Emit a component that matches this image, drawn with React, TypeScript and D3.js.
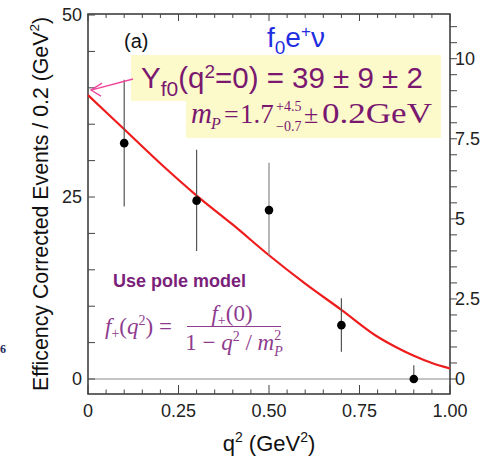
import React, { useEffect, useRef } from 'react';
import * as d3 from 'd3';

// measured points
const q2 = [0.1, 0.3, 0.5, 0.7, 0.9];
const events = [32.4, 24.5, 23.2, 7.4, 0];
const errHigh = [41.1, 31.5, 29.7, 11.1, 1.9];
const errLow = [23.7, 17.6, 17.0, 3.75, 0];

// pole model fit curve
const fitQ2 = [0, 0.1, 0.2, 0.3, 0.4, 0.5, 0.6, 0.7, 0.8, 0.85, 0.9, 0.95, 1.0];
const fitEvents = [39, 34.3, 29.6, 25.2, 21.2, 17.0, 13.1, 9.5, 5.8, 4.4, 3.2, 2.2, 1.45];

const xTicks = [0, 0.25, 0.5, 0.75, 1.0];
const xTickLabels = ['0', '0.25', '0.50', '0.75', '1.00'];
const yTicks = [0, 25, 50];
const yRightTicks = [0, 2.5, 5, 7.5, 10];
const yRightLabels = ['0', '2.5', '5', '7.5', '10'];

const PURPLE = '#7a1870';
const SANS = 'Arial, "Liberation Sans", sans-serif';
const SERIF = '"Times New Roman", "Liberation Serif", serif';

export default function App() {
    const svgRef = useRef<SVGSVGElement>(null);

    useEffect(() => {
        const svg = d3.select(svgRef.current);
        svg.selectAll('*').remove();

        const left = 88, right = 450, top = 14, bottom = 394;

        const x = d3.scaleLinear().domain([0, 1]).range([left, right]);
        const y = d3.scaleLinear().domain([-2.06, 50.14]).range([bottom, top]);
        // right axis is the same events scaled down by the efficiency factor
        const yR = d3.scaleLinear().domain([-2.06 / 4.4, 50.14 / 4.4]).range([bottom, top]);

        // yellow boxes behind the result text
        svg.append('rect').attr('x', 131).attr('y', 55).attr('width', 310).attr('height', 46).attr('fill', '#fcfacb');
        svg.append('rect').attr('x', 186).attr('y', 100).attr('width', 255).attr('height', 38).attr('fill', '#fcfacb');

        // zero line
        svg.append('line')
            .attr('x1', left).attr('x2', right)
            .attr('y1', y(0)).attr('y2', y(0))
            .attr('stroke', '#8a8a8a').attr('stroke-width', 1.2);

        // frame
        svg.append('rect')
            .attr('x', left).attr('y', top)
            .attr('width', right - left).attr('height', bottom - top)
            .attr('fill', 'none').attr('stroke', '#333').attr('stroke-width', 1.5);

        // x ticks, bottom and top, pointing inward
        const xMinor = d3.range(0, 1.0001, 0.05);
        xMinor.forEach((v, i) => {
            const major = i % 5 === 0;
            const len = major ? 9 : 4.5;
            svg.append('line').attr('x1', x(v)).attr('x2', x(v)).attr('y1', bottom).attr('y2', bottom - len)
                .attr('stroke', '#444').attr('stroke-width', 1);
            svg.append('line').attr('x1', x(v)).attr('x2', x(v)).attr('y1', top).attr('y2', top + (major ? 7 : 4))
                .attr('stroke', '#444').attr('stroke-width', 1);
        });

        // left ticks, every 5
        d3.range(0, 50.001, 5).forEach(v => {
            svg.append('line').attr('x1', left).attr('x2', left + 7).attr('y1', y(v)).attr('y2', y(v))
                .attr('stroke', '#444').attr('stroke-width', 1);
        });

        // right ticks outward, every 0.5
        d3.range(0, 11.001, 0.5).forEach(v => {
            svg.append('line').attr('x1', right).attr('x2', right + 7).attr('y1', yR(v)).attr('y2', yR(v))
                .attr('stroke', '#444').attr('stroke-width', 1);
        });

        // tick labels
        xTicks.forEach((v, i) => {
            svg.append('text').attr('x', x(v)).attr('y', 417)
                .attr('text-anchor', 'middle').attr('font-family', SANS).attr('font-size', 18).attr('fill', '#222')
                .text(xTickLabels[i]);
        });
        yTicks.forEach(v => {
            svg.append('text').attr('x', 82).attr('y', y(v)).attr('dy', '0.36em')
                .attr('text-anchor', 'end').attr('font-family', SANS).attr('font-size', 18).attr('fill', '#222')
                .text(String(v));
        });
        yRightTicks.forEach((v, i) => {
            svg.append('text').attr('x', 455).attr('y', yR(v)).attr('dy', '0.36em')
                .attr('font-family', SANS).attr('font-size', 18).attr('fill', '#222')
                .text(yRightLabels[i]);
        });

        // axis titles
        const xt = svg.append('text').attr('x', 269).attr('y', 451).attr('text-anchor', 'middle')
            .attr('font-family', SANS).attr('font-size', 22).attr('fill', '#111');
        xt.append('tspan').text('q');
        xt.append('tspan').attr('dy', -9).attr('font-size', 14).text('2');
        xt.append('tspan').attr('dy', 9).text(' (GeV');
        xt.append('tspan').attr('dy', -9).attr('font-size', 14).text('2');
        xt.append('tspan').attr('dy', 9).text(')');

        const yt = svg.append('text').attr('transform', 'translate(48,204) rotate(-90)').attr('text-anchor', 'middle')
            .attr('font-family', SANS).attr('font-size', 21.3).attr('fill', '#111');
        yt.append('tspan').text('Efficency Corrected Events / 0.2 (GeV');
        yt.append('tspan').attr('dy', -9).attr('font-size', 13.5).text('2');
        yt.append('tspan').attr('dy', 9).text(')');

        // stray label at the left edge
        svg.append('text').attr('x', 0).attr('y', 353).attr('font-family', SERIF).attr('font-weight', 'bold')
            .attr('font-size', 12).attr('fill', '#1b2a5a').text('6');

        // fit curve
        const line = d3.line<number>()
            .x((d, i) => x(fitQ2[i]))
            .y(d => y(d))
            .curve(d3.curveMonotoneX);
        svg.append('path').datum(fitEvents).attr('d', line)
            .attr('fill', 'none').attr('stroke', '#ee1c1c').attr('stroke-width', 2.2);

        // error bars and points
        const pts = svg.append('g');
        q2.forEach((q, i) => {
            pts.append('line').attr('x1', x(q)).attr('x2', x(q)).attr('y1', y(errHigh[i])).attr('y2', y(errLow[i]))
                .attr('stroke', i === 2 ? '#888' : '#555').attr('stroke-width', 1.2);
            pts.append('circle').attr('cx', x(q)).attr('cy', y(events[i])).attr('r', 4.3).attr('fill', '#000');
        });

        // pink arrow to the intercept
        const tip = [x(0) + 3, y(39) - 5];
        svg.append('line').attr('x1', 133).attr('y1', 79).attr('x2', tip[0]).attr('y2', tip[1])
            .attr('stroke', '#f0449a').attr('stroke-width', 1.3);
        svg.append('path').attr('d', `M${tip[0] + 11},${tip[1] - 7} L${tip[0]},${tip[1]} L${tip[0] + 10},${tip[1] + 6}`)
            .attr('fill', 'none').attr('stroke', '#f0449a').attr('stroke-width', 1.3);

        // (a)
        svg.append('text').attr('x', 124).attr('y', 48).attr('font-family', SANS).attr('font-size', 20).attr('fill', '#111').text('(a)');

        // f0 e+ nu
        const ft = svg.append('text').attr('x', 267).attr('y', 47).attr('font-family', SANS).attr('font-size', 28).attr('fill', '#1f2ee0');
        ft.append('tspan').text('f');
        ft.append('tspan').attr('dy', 7).attr('font-size', 19).text('0');
        ft.append('tspan').attr('dy', -7).text('e');
        ft.append('tspan').attr('dy', -10).attr('font-size', 17).text('+');
        ft.append('tspan').attr('dy', 10).text('ν');

        // yield line
        const yl = svg.append('text').attr('x', 141).attr('y', 88).attr('font-family', SANS).attr('font-size', 29.5).attr('fill', PURPLE);
        yl.append('tspan').text('Y');
        yl.append('tspan').attr('dy', 8).attr('font-size', 21).text('f0');
        yl.append('tspan').attr('dy', -8).text('(q');
        yl.append('tspan').attr('dy', -10).attr('font-size', 19).text('2');
        yl.append('tspan').attr('dy', 10).text('=0) = 39 ± 9 ± 2');

        // pole mass line, pieces placed as in the original equation image
        const mText = (tx: number, ty: number, size: number, s: string, italic = false) =>
            svg.append('text').attr('x', tx).attr('y', ty).attr('font-family', SERIF).attr('font-size', size)
                .attr('font-style', italic ? 'italic' : 'normal').attr('fill', PURPLE).text(s);
        mText(191, 123, 29, 'm', true);
        mText(211, 129, 16, 'P', true);
        mText(224, 123, 26, '=');
        mText(240, 123, 27, '1.7');
        mText(276, 111, 14, '+4.5');
        mText(276, 131, 14, '−0.7');
        mText(304, 123, 26, '±');
        mText(322, 123, 29, '0.2GeV').attr('textLength', 110).attr('lengthAdjust', 'spacingAndGlyphs');

        // pole model note
        svg.append('text').attr('x', 113).attr('y', 287).attr('font-family', SANS).attr('font-weight', 'bold')
            .attr('font-size', 18).attr('fill', '#7b1f7b').text('Use pole model');

        const FC = '#8e3c8e';
        const fl = svg.append('text').attr('x', 105).attr('y', 334).attr('font-family', SERIF).attr('font-size', 23).attr('fill', FC);
        fl.append('tspan').attr('font-style', 'italic').text('f');
        fl.append('tspan').attr('dy', 4).attr('font-size', 14).text('+');
        fl.append('tspan').attr('dy', -4).text('(');
        fl.append('tspan').attr('font-style', 'italic').text('q');
        fl.append('tspan').attr('dy', -9).attr('font-size', 14).text('2');
        fl.append('tspan').attr('dy', 9).text(') =');

        svg.append('line').attr('x1', 187).attr('x2', 281).attr('y1', 326.5).attr('y2', 326.5).attr('stroke', FC).attr('stroke-width', 1.2);

        const num = svg.append('text').attr('x', 232).attr('y', 321).attr('text-anchor', 'middle').attr('font-family', SERIF).attr('font-size', 23).attr('fill', FC);
        num.append('tspan').attr('font-style', 'italic').text('f');
        num.append('tspan').attr('dy', 4).attr('font-size', 14).text('+');
        num.append('tspan').attr('dy', -4).text('(0)');

        const den = svg.append('text').attr('x', 234).attr('y', 350).attr('text-anchor', 'middle').attr('font-family', SERIF).attr('font-size', 23).attr('fill', FC);
        den.append('tspan').text('1 − ');
        den.append('tspan').attr('font-style', 'italic').text('q');
        den.append('tspan').attr('dy', -9).attr('font-size', 14).text('2');
        den.append('tspan').attr('dy', 9).text(' / ');
        den.append('tspan').attr('font-style', 'italic').text('m');
        den.append('tspan').attr('dy', -10).attr('font-size', 14).text('2');
        den.append('tspan').attr('dx', -7).attr('dy', 16).attr('font-size', 14).attr('font-style', 'italic').text('P');
    }, []);

    return (
        <div>
            <svg ref={svgRef} width={497} height={463}
                style={{ position: 'absolute', left: 0, top: 0, background: '#fff' }} />
        </div>
    );
}
